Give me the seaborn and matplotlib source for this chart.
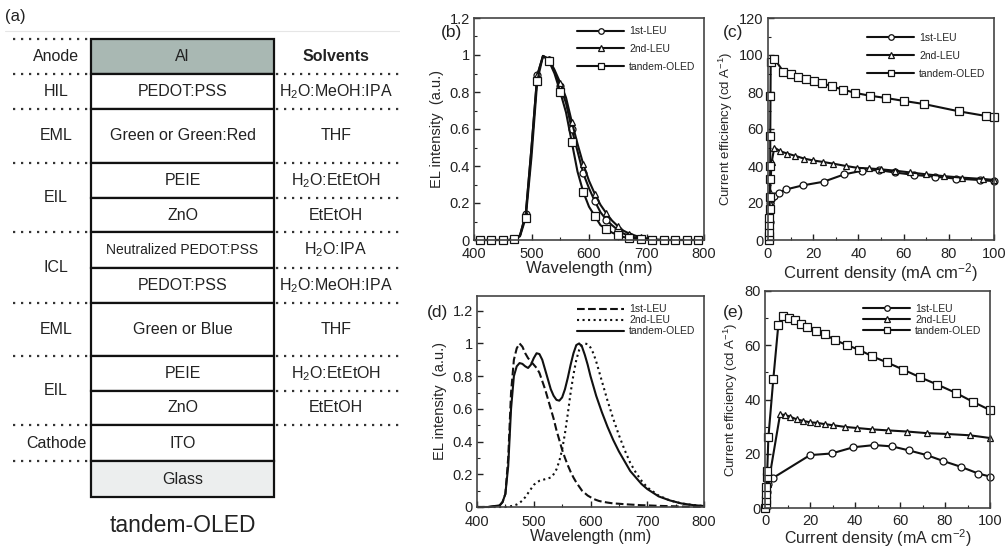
import numpy as np
import matplotlib
matplotlib.use("Agg")
import matplotlib.pyplot as plt
from matplotlib.patches import Rectangle
import seaborn as sns

# ---------------- data ----------------
# (a) device stack
layer_names = ["Al", "PEDOT:PSS", "Green or Green:Red", "PEIE", "ZnO",
               "Neutralized PEDOT:PSS", "PEDOT:PSS", "Green or Blue", "PEIE",
               "ZnO", "ITO", "Glass"]
layer_heights = [35, 35, 54, 35, 34, 36, 35, 53, 35, 34, 36, 36]
solvents = ["Solvents", "H$_2$O:MeOH:IPA", "THF", "H$_2$O:EtEtOH", "EtEtOH",
            "H$_2$O:IPA", "H$_2$O:MeOH:IPA", "THF", "H$_2$O:EtEtOH", "EtEtOH", "", ""]
groups = ["Anode", "HIL", "EML", "EIL", "ICL", "EML", "EIL", "Cathode"]
group_sizes = [1, 1, 1, 2, 2, 1, 2, 1]

# (b) EL spectra, green device
wl_b = [400, 410, 420, 430, 440, 450, 460, 470, 480, 490, 500, 510, 520, 530,
        540, 550, 560, 570, 580, 590, 600, 610, 620, 630, 640, 650, 660, 670,
        680, 690, 700, 710, 720, 730, 740, 750, 760, 770, 780, 790, 800]
b_1st = [0, 0, 0, 0, 0, 0, 0, 0.004, 0.025, 0.14, 0.50, 0.89, 0.995, 0.975,
         0.91, 0.83, 0.74, 0.60, 0.48, 0.36, 0.28, 0.21, 0.15, 0.11, 0.08, 0.055,
         0.035, 0.022, 0.014, 0.008, 0.004, 0.002, 0, 0, 0, 0, 0, 0, 0, 0, 0]
b_2nd = [0, 0, 0, 0, 0, 0, 0, 0.004, 0.025, 0.14, 0.50, 0.89, 0.995, 0.98,
         0.92, 0.85, 0.77, 0.64, 0.52, 0.41, 0.32, 0.25, 0.19, 0.145, 0.105, 0.075,
         0.05, 0.035, 0.024, 0.015, 0.009, 0.005, 0.002, 0, 0, 0, 0, 0, 0, 0, 0]
b_tan = [0, 0, 0, 0, 0, 0, 0, 0.003, 0.02, 0.12, 0.45, 0.86, 0.995, 0.97,
         0.90, 0.80, 0.69, 0.53, 0.37, 0.26, 0.18, 0.13, 0.08, 0.06, 0.04, 0.027,
         0.016, 0.01, 0.006, 0.004, 0.002, 0, 0, 0, 0, 0, 0, 0, 0, 0, 0]

# (c) current efficiency, green device
c_1st_x = [0.3, 0.5, 0.7, 0.9, 1.1, 1.5, 2.5, 4.7, 7.9, 15.3, 24.6, 33.8, 41.8,
           49, 56, 64.6, 73.8, 83.3, 93.9, 100]
c_1st_y = [0, 5, 10, 15, 20, 22, 24, 25.5, 27.3, 29.5, 31.5, 35.5, 37.5, 37.8,
           36.5, 35.2, 34.2, 33.2, 32.4, 31.8]
c_2nd_x = [0.3, 0.5, 0.7, 0.9, 1.2, 1.6, 2.8, 5.4, 8.6, 12, 16, 20, 24.3, 28.7,
           34.5, 39.6, 44.7, 50, 56, 63, 70, 78, 86, 95, 100]
c_2nd_y = [3, 10, 20, 26, 33, 42, 50, 48, 46.7, 45.5, 44, 43, 42.2, 41.3, 40, 39,
           38.7, 38.2, 37.5, 36.5, 35.5, 34.5, 33.7, 33, 32.5]
c_tan_x = [0.3, 0.4, 0.5, 0.5, 0.6, 0.7, 0.8, 0.9, 1.0, 1.0, 1.1, 1.2, 2.8, 6.8,
           10.0, 13.4, 16.7, 20.4, 23.9, 28.2, 33.3, 38.6, 45, 52, 60, 69, 84.7,
           96.6, 100]
c_tan_y = [0, 2, 4.5, 8, 12, 17, 23, 33, 40, 56, 78, 96, 98, 91, 89.6, 88.2, 87,
           86, 84.9, 83, 81.3, 79.5, 78, 76.8, 75.2, 73.5, 69.5, 67, 66.4]

# (d) EL spectra, white device
wl_d = [400, 420, 440, 445, 450, 455, 460, 465, 470, 475, 480, 485, 490, 495,
        500, 505, 510, 515, 520, 525, 530, 535, 540, 545, 550, 555, 560, 565,
        570, 575, 580, 585, 590, 595, 600, 605, 610, 615, 620, 630, 640, 650,
        660, 670, 680, 690, 700, 720, 740, 760, 780, 800]
d_1st = [0, 0, 0.01, 0.03, 0.08, 0.30, 0.70, 0.90, 0.97, 1.0, 0.98, 0.94, 0.91,
         0.89, 0.87, 0.85, 0.82, 0.77, 0.72, 0.66, 0.60, 0.54, 0.47, 0.41, 0.35,
         0.30, 0.255, 0.215, 0.18, 0.15, 0.125, 0.10, 0.085, 0.07, 0.06, 0.05,
         0.043, 0.037, 0.033, 0.027, 0.022, 0.02, 0.017, 0.015, 0.013, 0.011,
         0.01, 0.007, 0.005, 0.003, 0.002, 0.001]
d_2nd = [0, 0, 0, 0, 0, 0.002, 0.005, 0.01, 0.015, 0.025, 0.04, 0.06, 0.085,
         0.11, 0.135, 0.15, 0.16, 0.165, 0.17, 0.175, 0.18, 0.20, 0.23, 0.28, 0.35,
         0.45, 0.57, 0.70, 0.81, 0.90, 0.96, 0.99, 1.0, 0.995, 0.975, 0.94, 0.89,
         0.83, 0.77, 0.65, 0.54, 0.44, 0.35, 0.27, 0.21, 0.16, 0.12, 0.07, 0.04,
         0.022, 0.012, 0.006]
d_tan = [0, 0, 0.01, 0.03, 0.08, 0.25, 0.60, 0.80, 0.86, 0.88, 0.875, 0.86, 0.85,
         0.87, 0.91, 0.94, 0.935, 0.90, 0.84, 0.78, 0.72, 0.68, 0.655, 0.65, 0.67,
         0.72, 0.79, 0.87, 0.94, 0.99, 1.0, 0.98, 0.93, 0.87, 0.80, 0.74, 0.68,
         0.63, 0.58, 0.49, 0.41, 0.34, 0.28, 0.22, 0.18, 0.14, 0.11, 0.065, 0.04,
         0.022, 0.012, 0.006]

# (e) current efficiency, white device
e_1st_x = [0.3, 0.6, 1.0, 1.5, 3.4, 20, 29.6, 39.3, 48.6, 56.6, 64.1, 71.9, 79.3,
           87, 94.8, 100]
e_1st_y = [0, 3, 6, 9, 11, 19.5, 20.1, 22.4, 23.2, 22.7, 21.2, 19.5, 17.3, 15.2,
           12.7, 11.6]
e_2nd_x = [0.3, 0.6, 1.0, 1.5, 6.7, 8.9, 11.1, 14, 17, 20, 23, 26.7, 30.4, 35.6,
           40.7, 47.4, 54.8, 63, 71.9, 80.7, 91.1, 100]
e_2nd_y = [0, 3, 6, 9, 34.5, 34.3, 33.7, 32.7, 32.1, 31.6, 31.4, 30.9, 30.5, 29.9,
           29.5, 29, 28.6, 28.2, 27.6, 27.3, 26.8, 25.8]
e_tan_x = [0.2, 0.3, 0.4, 0.5, 0.6, 0.8, 1.0, 1.5, 3.7, 5.9, 8.1, 10.8, 13.3, 16,
           18.8, 22.7, 26.7, 31.1, 36.3, 41.9, 47.7, 54.1, 61.5, 68.9, 76.6, 84.9,
           92.3, 100]
e_tan_y = [0, 1.5, 3, 5, 7.6, 11.3, 13.7, 26, 47.6, 67.3, 70.7, 70, 69.2, 68, 66.7,
           65.2, 64, 61.9, 60.1, 58.3, 55.9, 53.7, 51, 48.2, 45.5, 42.4, 39.2, 36.1]

series_labels = ["1st-LEU", "2nd-LEU", "tandem-OLED"]
el_ticks = [0, 0.2, 0.4, 0.6, 0.8, 1.0, 1.2]
el_ticklabels = ["0", "0.2", "0.4", "0.6", "0.8", "1", "1.2"]

# ---------------- style ----------------
sns.set_style("ticks")
plt.rcParams["font.family"] = ["Liberation Sans", "DejaVu Sans"]
plt.rcParams["mathtext.default"] = "regular"
plt.rcParams["axes.edgecolor"] = "#333333"
plt.rcParams["axes.linewidth"] = 1.2

W, H = 1006, 549
fig = plt.figure(figsize=(W / 100, H / 100), dpi=100)


def px_axes(l, t, r, b):
    return fig.add_axes([l / W, 1 - b / H, (r - l) / W, (b - t) / H])


# ---------------- panel (a) ----------------
axa = fig.add_axes([0, 0, 400 / W, 1])
axa.set_xlim(0, 400)
axa.set_ylim(H, 0)
axa.axis("off")
axa.plot([5, 400], [31, 31], color="#e6e6e6", lw=0.8)
axa.text(5, 17, "(a)", fontsize=12, va="center", ha="left", color="#222222")

top = 39
bx0, bx1 = 91, 274
edges = np.concatenate([[top], top + np.cumsum(layer_heights)])
fills = {"Al": "#a9b8b3", "Glass": "#eceeee"}
for i, name in enumerate(layer_names):
    y0, y1 = edges[i], edges[i + 1]
    axa.add_patch(Rectangle((bx0, y0), bx1 - bx0, y1 - y0,
                            facecolor=fills.get(name, "white"),
                            edgecolor="#111111", lw=1.6))
    fs = 10 if name.startswith("Neutralized") else 11.5
    axa.text((bx0 + bx1) / 2, (y0 + y1) / 2, name, ha="center", va="center",
             fontsize=fs, color="#222222")
    if solvents[i]:
        axa.text(336, (y0 + y1) / 2, solvents[i], ha="center", va="center",
                 fontsize=11.5, color="#222222",
                 fontweight="bold" if i == 0 else "normal")

dot_kw = dict(color="#333333", lw=1.6, linestyle=(0, (1, 2.6)))
for i in range(1, 11):
    axa.plot([276, 400], [edges[i], edges[i]], **dot_kw)
gb = np.concatenate([[0], np.cumsum(group_sizes)])
for k in range(len(gb)):
    axa.plot([13, 89], [edges[gb[k]], edges[gb[k]]], **dot_kw)
for k, g in enumerate(groups):
    yc = (edges[gb[k]] + edges[gb[k + 1]]) / 2
    axa.text(56, yc, g, ha="center", va="center", fontsize=11.5, color="#222222")
axa.text((bx0 + bx1) / 2, 525, "tandem-OLED", ha="center", va="center",
         fontsize=16.5, color="#222222")

# ---------------- chart helpers ----------------
line_kw = dict(color="#111111", lw=1.5, clip_on=False)
mk_kw = dict(mfc="white", mec="#111111", mew=0.9)
markers = ["o", "^", "s"]


def style_axes(ax, ylab_size=10.5, xlab_size=12, xpad=5):
    ax.tick_params(which="both", direction="in", top=False, right=False,
                   labelsize=10.5, colors="#222222")
    ax.tick_params(axis="x", pad=xpad)
    ax.tick_params(axis="y", pad=3)
    ax.tick_params(which="major", length=4, width=1)
    ax.tick_params(which="minor", length=2.5, width=0.8)
    for s in ax.spines.values():
        s.set_visible(True)
        s.set_color("#444444")
    ax.xaxis.label.set_size(xlab_size)
    ax.yaxis.label.set_size(ylab_size)


# ---------------- panel (b) ----------------
axb = px_axes(474, 18, 704, 240)
for ys, m, lab in zip([b_1st, b_2nd, b_tan], markers, series_labels):
    sns.lineplot(x=wl_b, y=ys, ax=axb, marker=m, ms=5 if m != "s" else 5.5,
                 markevery=slice(1, None, 2), label=lab, **line_kw, **mk_kw)
axb.set_xlim(400, 800)
axb.set_ylim(0, 1.2)
axb.set_xticks([400, 500, 600, 700, 800])
axb.set_xticks([450, 550, 650, 750], minor=True)
axb.set_yticks(el_ticks)
axb.set_yticklabels(el_ticklabels)
axb.set_yticks([0.1, 0.3, 0.5, 0.7, 0.9, 1.1], minor=True)
axb.set_xlabel("Wavelength (nm)", labelpad=0)
axb.set_ylabel("EL intensity  (a.u.)", labelpad=4)
style_axes(axb, 10.5)
axb.legend(loc="upper right", bbox_to_anchor=(1.0, 1.0), frameon=False,
           fontsize=7.5, handlelength=4.5, labelspacing=0.75, handletextpad=0.5,
           borderaxespad=0.4, markerscale=0.8)
fig.text(441 / W, 1 - 33 / H, "(b)", fontsize=12.5, va="center", color="#222222")

# ---------------- panel (c) ----------------
axc = px_axes(768, 18, 994, 240)
for xs, ys, m, lab in zip([c_1st_x, c_2nd_x, c_tan_x], [c_1st_y, c_2nd_y, c_tan_y],
                          markers, series_labels):
    sns.lineplot(x=xs, y=ys, ax=axc, marker=m, ms=5 if m != "s" else 6,
                 sort=False, estimator=None, label=lab, **line_kw, **mk_kw)
axc.set_xlim(0, 100)
axc.set_ylim(0, 120)
axc.set_xticks([0, 20, 40, 60, 80, 100])
axc.set_xticks([10, 30, 50, 70, 90], minor=True)
axc.set_yticks([0, 20, 40, 60, 80, 100, 120])
axc.set_yticks([10, 30, 50, 70, 90, 110], minor=True)
axc.set_xlabel("Current density (mA cm$^{-2}$)", labelpad=0)
axc.set_ylabel("Current efficiency (cd A$^{-1}$)", labelpad=3)
style_axes(axc, 9.5)
axc.legend(loc="upper right", bbox_to_anchor=(1.0, 0.97), frameon=False,
           fontsize=7.5, handlelength=4.5, labelspacing=0.75, handletextpad=0.5,
           borderaxespad=0.4, markerscale=0.8)
fig.text(723 / W, 1 - 33 / H, "(c)", fontsize=12.5, va="center", color="#222222")

# ---------------- panel (d) ----------------
axd = px_axes(477, 296, 704, 507)
for ys, ls, lab in zip([d_1st, d_2nd, d_tan], ["--", ":", "-"], series_labels):
    sns.lineplot(x=wl_d, y=ys, ax=axd, label=lab, linestyle=ls, **line_kw)
axd.set_xlim(400, 800)
axd.set_ylim(0, 1.29)
axd.set_xticks([400, 500, 600, 700, 800])
axd.set_xticks([450, 550, 650, 750], minor=True)
axd.set_yticks(el_ticks)
axd.set_yticklabels(el_ticklabels)
axd.set_yticks([0.1, 0.3, 0.5, 0.7, 0.9, 1.1], minor=True)
axd.set_xlabel("Wavelength (nm)", labelpad=0)
axd.set_ylabel("EL intensity  (a.u.)", labelpad=4)
style_axes(axd, 10.5, 11.5, 5.5)
axd.legend(loc="upper right", bbox_to_anchor=(1.0, 1.0), frameon=False,
           fontsize=7.5, handlelength=4.5, labelspacing=0.1, handletextpad=0.5,
           borderaxespad=0.4)
fig.text(427 / W, 1 - 313 / H, "(d)", fontsize=12.5, va="center", color="#222222")

# ---------------- panel (e) ----------------
axe = px_axes(765, 291, 990, 508)
for xs, ys, m, lab in zip([e_1st_x, e_2nd_x, e_tan_x], [e_1st_y, e_2nd_y, e_tan_y],
                          markers, series_labels):
    sns.lineplot(x=xs, y=ys, ax=axe, marker=m, ms=5 if m != "s" else 6,
                 sort=False, estimator=None, label=lab, **line_kw, **mk_kw)
axe.set_xlim(0, 100)
axe.set_ylim(0, 80)
axe.set_xticks([0, 20, 40, 60, 80, 100])
axe.set_xticks([10, 30, 50, 70, 90], minor=True)
axe.set_yticks([0, 20, 40, 60, 80])
axe.set_yticks([10, 30, 50, 70], minor=True)
axe.set_xlabel("Current density (mA cm$^{-2}$)", labelpad=0)
axe.set_ylabel("Current efficiency (cd A$^{-1}$)", labelpad=3)
style_axes(axe, 9.5, 11.5, 4)
axe.legend(loc="upper right", bbox_to_anchor=(1.0, 0.98), frameon=False,
           fontsize=7.5, handlelength=4.5, labelspacing=0.1, handletextpad=0.5,
           borderaxespad=0.4, markerscale=0.8)
fig.text(723 / W, 1 - 312 / H, "(e)", fontsize=12.5, va="center", color="#222222")

fig.savefig("out.png", dpi=100, facecolor="white")
